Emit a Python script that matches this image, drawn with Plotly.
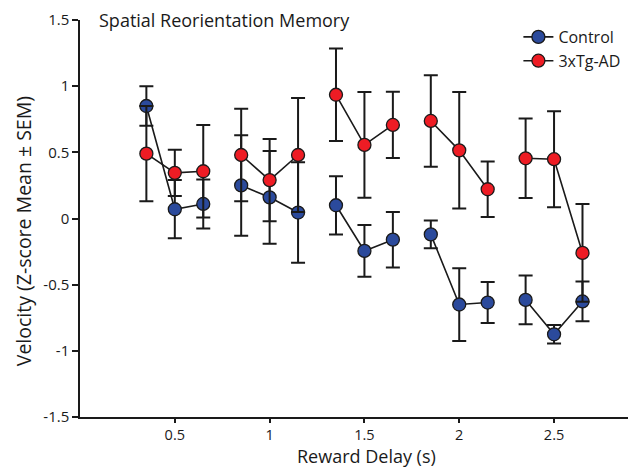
import plotly.graph_objects as go

delays = [0.5, 1.0, 1.5, 2.0, 2.5]
conditions = ["a", "b", "c"]  # three sub-conditions within each delay

control_mean = [0.85, 0.07, 0.11, 0.25, 0.16, 0.045, 0.10, -0.245, -0.16,
                -0.12, -0.65, -0.635, -0.615, -0.875, -0.627]
control_sem = [0.15, 0.22, 0.185, 0.38, 0.35, 0.38, 0.22, 0.195, 0.21,
               0.105, 0.275, 0.155, 0.185, 0.07, 0.15]
tg_mean = [0.49, 0.345, 0.357, 0.48, 0.29, 0.48, 0.935, 0.556, 0.707,
           0.737, 0.515, 0.221, 0.455, 0.448, -0.26]
tg_sem = [0.36, 0.175, 0.35, 0.35, 0.31, 0.43, 0.35, 0.40, 0.25,
          0.345, 0.44, 0.21, 0.30, 0.363, 0.37]

x_ticks = [0.5, 1, 1.5, 2, 2.5]
x_ticklabels = ["0.5", "1", "1.5", "2", "2.5"]
y_ticks = [-1.5, -1, -0.5, 0, 0.5, 1, 1.5]
y_ticklabels = ["-1.5", "-1", "-0.5", "0", "0.5", "1", "1.5"]

SPREAD = 0.15
offsets = [-SPREAD, 0.0, SPREAD]


def gapped(values):
    out = []
    for g in range(len(delays)):
        out.extend(values[g * 3:(g + 1) * 3])
        out.append(None)
    return out


xs = []
for d in delays:
    xs.extend([d + o for o in offsets])
    xs.append(None)

FONT = "Open Sans"
INK = "#1a1a1a"

fig = go.Figure()


def add_series(name, mean, sem, color):
    fig.add_trace(go.Scatter(
        x=xs, y=gapped(mean), name=name, mode="lines+markers",
        legendgroup=name,
        line=dict(color=INK, width=1.6),
        marker=dict(size=13, color=color, line=dict(color=INK, width=1.3)),
        error_y=dict(type="data", array=gapped(sem), visible=True,
                     color=INK, thickness=2, width=7),
        connectgaps=False,
    ))


add_series("Control", control_mean, control_sem, "#2b4a9c")
add_series("3xTg-AD", tg_mean, tg_sem, "#ee1c24")

fig.update_layout(
    width=630, height=469,
    margin=dict(l=80, r=2, t=20, b=52),
    paper_bgcolor="white", plot_bgcolor="white",
    font=dict(family=FONT, size=15, color=INK),
    showlegend=True,
    legend=dict(x=0.80, y=1.0, xanchor="left", yanchor="top",
                bgcolor="rgba(0,0,0,0)", font=dict(size=16, family=FONT),
                tracegroupgap=0),
    annotations=[
        dict(text="Spatial Reorientation Memory", x=0.031, y=1.0,
             xref="paper", yref="paper", xanchor="left", yanchor="middle",
             yshift=0, showarrow=False, font=dict(size=18, family=FONT)),
        dict(text="Reward Delay (s)", x=0.522, y=-0.1317,
             xref="paper", yref="paper", xanchor="center", yanchor="bottom",
             borderpad=0, showarrow=False, font=dict(size=18, family=FONT)),
        dict(text="Velocity (Z-score Mean ± SEM)", x=-0.104, y=0.468,
             xref="paper", yref="paper", xanchor="center", yanchor="middle",
             textangle=-90, showarrow=False, font=dict(size=19.5, family=FONT)),
    ],
)

fig.update_xaxes(
    range=[0, 2.89], tickvals=x_ticks, ticktext=x_ticklabels,
    showline=True, linecolor=INK, linewidth=1.5,
    ticks="outside", ticklen=4, tickwidth=1.5, tickcolor=INK,
    showgrid=False, zeroline=False, tickfont=dict(size=14.5),
)
fig.update_yaxes(
    range=[-1.5, 1.5], tickvals=y_ticks, ticktext=y_ticklabels,
    showline=True, linecolor=INK, linewidth=1.5,
    ticks="outside", ticklen=6, tickwidth=1.5, tickcolor=INK,
    showgrid=False, zeroline=False, tickfont=dict(size=15),
)

fig.write_html("out.html", config={"displayModeBar": False},
               post_script="document.body.style.margin='0';")
